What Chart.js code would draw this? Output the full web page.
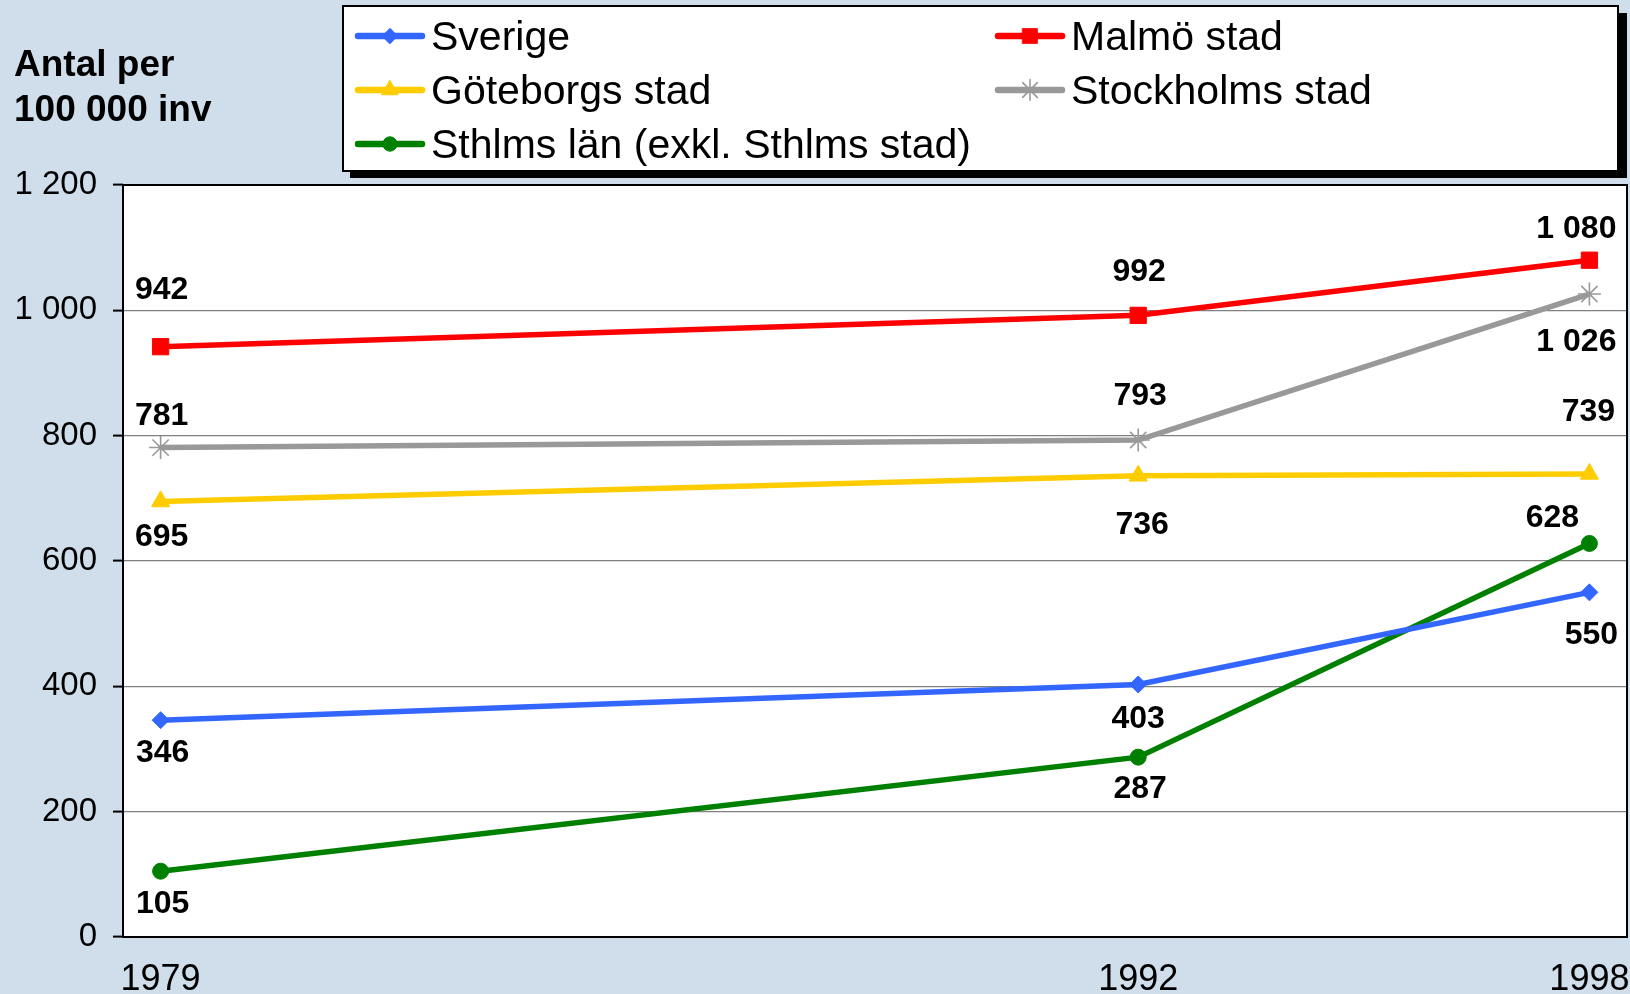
<!DOCTYPE html>
<html>
<head>
<meta charset="utf-8">
<script src="https://cdn.jsdelivr.net/npm/chart.js@4/dist/chart.umd.min.js"></script>
<style>
  html, body { margin: 0; padding: 0; overflow: hidden; background: #cfdeea; }
  #wrap { width: 1630px; height: 994px; position: relative; }
  #chart { display: block; }
</style>
</head>
<body>
<div id="wrap"><canvas id="chart"></canvas></div>
<script>
const years = [1979, 1992, 1998];
const seriesNames = ["Sverige", "Malmö stad", "Göteborgs stad", "Stockholms stad", "Sthlms län (exkl. Sthlms stad)"];
const sverige = [346, 403, 550];
const malmo = [942, 992, 1080];
const goteborg = [695, 736, 739];
const stockholm = [781, 793, 1026];
const sthlmsLan = [105, 287, 628];
const yTicks = [0, 200, 400, 600, 800, 1000, 1200];

// label nudges (dx, dy in px) so the value labels sit like the original
const labelShift = [
  [[2, 33], [0, 35], [2, 43]],
  [[1, -57], [1, -43], [-13, -31]],
  [[1, 36], [4, 49], [-1, -62]],
  [[1, -31], [2, -44], [-13, 48]],
  [[2, 33], [2, 32], [-37, -25]]
];

const FONT = "Arial, 'Liberation Sans', sans-serif";
const fmt = v => String(v).replace(/\B(?=(\d{3})+(?!\d))/g, " ");
const pts = arr => arr.map((v, i) => ({ x: years[i], y: v }));

function ds(label, values, color, style, radius, extra) {
  return Object.assign({
    label: label,
    data: pts(values),
    borderColor: color,
    backgroundColor: color,
    borderWidth: 5.5,
    pointStyle: style,
    pointRadius: radius,
    pointBorderWidth: 1,
    pointBorderColor: color,
    pointBackgroundColor: color,
    tension: 0
  }, extra || {});
}

const datasets = [
  ds(seriesNames[0], sverige, "#3366ff", "rectRot", 8.5),
  ds(seriesNames[1], malmo, "#ff0000", "rect", 11.5),
  ds(seriesNames[2], goteborg, "#ffcc00", "triangle", 10.5),
  ds(seriesNames[3], stockholm, "#999999", "star", 11.5, { pointBorderWidth: 1.6 }),
  ds(seriesNames[4], sthlmsLan, "#008000", "circle", 8)
];

const frame = {
  id: "frame",
  beforeDraw(chart) {
    const { ctx, chartArea: a } = chart;
    ctx.save();
    ctx.fillStyle = "#ffffff";
    ctx.fillRect(a.left, a.top, a.right - a.left, a.bottom - a.top);
    ctx.restore();
  },
  afterDraw(chart) {
    const { ctx, chartArea: a } = chart;
    ctx.save();
    ctx.strokeStyle = "#000";
    ctx.lineWidth = 2;
    ctx.strokeRect(a.left, a.top, a.right - a.left, a.bottom - a.top);

    // y axis title
    ctx.fillStyle = "#000";
    ctx.font = "bold 37px " + FONT;
    ctx.textAlign = "left";
    ctx.textBaseline = "alphabetic";
    ctx.fillText("Antal per", 14, 76);
    ctx.fillText("100 000 inv", 14, 121);

    // legend box with shadow
    ctx.fillStyle = "#000";
    ctx.fillRect(350, 13, 1277, 165);
    ctx.fillStyle = "#fff";
    ctx.fillRect(343, 6, 1275, 165);
    ctx.lineWidth = 2;
    ctx.strokeRect(343, 6, 1275, 165);

    const slots = [[358, 36], [998, 36], [358, 90], [998, 90], [358, 144]];
    chart.data.datasets.forEach((d, i) => {
      const [x0, y] = slots[i];
      ctx.strokeStyle = d.borderColor;
      ctx.lineWidth = 6.5;
      ctx.lineCap = "round";
      ctx.beginPath();
      ctx.moveTo(x0, y);
      ctx.lineTo(x0 + 64, y);
      ctx.stroke();
      ctx.fillStyle = d.pointBackgroundColor;
      ctx.strokeStyle = d.pointBorderColor;
      ctx.lineWidth = d.pointBorderWidth;
      Chart.helpers.drawPoint(ctx, { pointStyle: d.pointStyle, radius: d.pointRadius * 0.9, rotation: 0, borderWidth: d.pointBorderWidth }, x0 + 32, y);
      ctx.fillStyle = "#000";
      ctx.font = "41px " + FONT;
      ctx.textAlign = "left";
      ctx.textBaseline = "middle";
      ctx.fillText(d.label, x0 + 73, y + 3);
    });
    ctx.restore();
  },
  afterDatasetsDraw(chart) {
    const { ctx } = chart;
    ctx.save();
    ctx.fillStyle = "#000";
    ctx.font = "bold 32px " + FONT;
    ctx.textAlign = "center";
    ctx.textBaseline = "middle";
    chart.data.datasets.forEach((d, i) => {
      chart.getDatasetMeta(i).data.forEach((p, j) => {
        const [dx, dy] = labelShift[i][j];
        ctx.fillText(fmt(d.data[j].y), p.x + dx, p.y + dy);
      });
    });
    ctx.restore();
  }
};

new Chart(document.getElementById("chart"), {
  type: "line",
  data: { datasets: datasets },
  plugins: [frame],
  options: {
    responsive: true,
    maintainAspectRatio: false,
    animation: false,
    layout: { autoPadding: false, padding: { top: 185, right: 3, left: 0, bottom: 0 } },
    plugins: { legend: { display: false }, tooltip: { enabled: false } },
    scales: {
      x: {
        type: "linear",
        min: 1978.5,
        max: 1998.5,
        afterBuildTicks: axis => { axis.ticks = years.map(v => ({ value: v })); },
        afterFit: axis => { axis.height = 57; axis.paddingLeft = 0; axis.paddingRight = 0; },
        grid: { display: false },
        border: { display: false },
        ticks: {
          color: "#000",
          padding: 13,
          maxRotation: 0,
          autoSkip: false,
          font: { size: 36, family: FONT },
          callback: v => String(v)
        }
      },
      y: {
        min: 0,
        max: 1200,
        afterBuildTicks: axis => { axis.ticks = yTicks.map(v => ({ value: v })); },
        afterFit: axis => { axis.width = 123; axis.paddingTop = 0; axis.paddingBottom = 0; },
        grid: { color: "#808080", lineWidth: 1.2, tickLength: 10, tickColor: "#000", tickWidth: 2 },
        border: { display: false },
        ticks: {
          color: "#000",
          padding: 16,
          font: { size: 33, family: FONT },
          callback: v => fmt(v)
        }
      }
    }
  }
});
</script>
</body>
</html>
